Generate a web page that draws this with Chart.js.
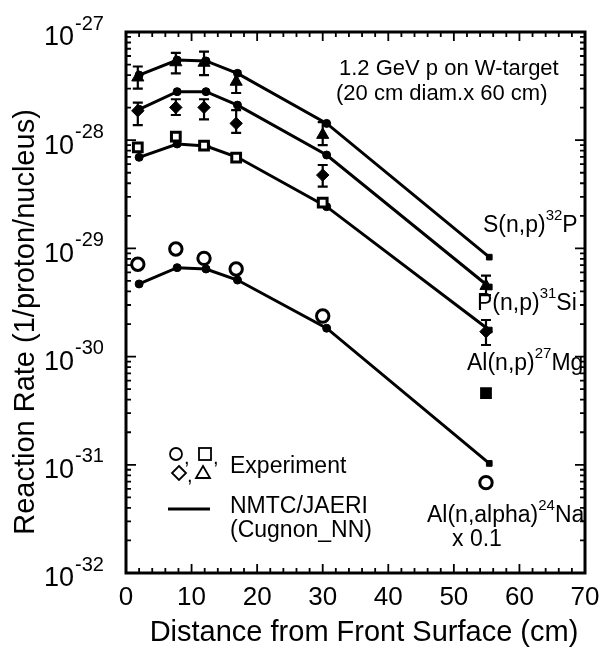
<!DOCTYPE html>
<html>
<head>
<meta charset="UTF-8">
<title>Reaction Rate</title>
<script src="https://cdn.jsdelivr.net/npm/chart.js"></script>
<style>
  html, body { margin: 0; padding: 0; background: #fff; }
  #wrap { width: 603px; height: 658px; }
</style>
</head>
<body>
<div id="wrap"><canvas id="grafico" width="603" height="658"></canvas></div>
<script>
// positions along the target (cm)
const calcX = [2, 7.8, 12.2, 17, 30.6, 55.4];
const expX = [1.8, 7.6, 11.9, 16.8, 30.0, 54.9];

// NMTC/JAERI calculation
const calcS = [4.0e-28, 5.5e-28, 5.4e-28, 4.15e-28, 1.43e-28, 8.3e-30];
const calcP = [1.93e-28, 2.81e-28, 2.81e-28, 2.11e-28, 7.3e-29, 4.4e-30];
const calcAlp = [6.95e-29, 9.23e-29, 8.84e-29, 6.95e-29, 2.43e-29, 1.76e-30];
const calcAla = [4.69e-30, 6.64e-30, 6.45e-30, 5.1e-30, 1.83e-30, 1.03e-31];

// experiment
const expS = [3.8e-28, 5.25e-28, 5.2e-28, 3.47e-28, 1.12e-28, 4.5e-30];
const expSLo = [3.0e-28, 4.15e-28, 4.0e-28, 2.73e-28, 9.0e-29, 3.7e-30];
const expSHi = [4.8e-28, 6.4e-28, 6.6e-28, 4.35e-28, 1.47e-28, 5.6e-30];
const expP = [1.87e-28, 2.01e-28, 2.01e-28, 1.43e-28, 4.76e-29, 1.70e-30];
const expPLo = [1.38e-28, 1.71e-28, 1.56e-28, 1.17e-28, 3.72e-29, 1.28e-30];
const expPHi = [2.22e-28, 2.39e-28, 2.39e-28, 1.90e-28, 5.9e-29, 2.18e-30];
const expAlp = [8.59e-29, 1.08e-28, 8.9e-29, 6.9e-29, 2.65e-29, 4.6e-31];
const expAla = [7.13e-30, 9.87e-30, 8.09e-30, 6.45e-30, 2.37e-30, 6.84e-32];

const yDecades = [-32, -31, -30, -29, -28, -27];
const xTicks = [0, 10, 20, 30, 40, 50, 60, 70];

const FONT = '"Liberation Sans", Arial, Helvetica, sans-serif';

function pts(xs, ys) {
  return xs.map((x, i) => ({ x: x, y: ys[i] }));
}

function calcSet(ys) {
  return {
    type: 'line',
    data: pts(calcX, ys),
    borderColor: '#000',
    borderWidth: 3,
    pointRadius: 4,
    pointStyle: ['circle', 'circle', 'circle', 'circle', 'circle', 'rect'],
    pointBackgroundColor: '#000',
    pointBorderColor: '#000',
    pointBorderWidth: 1,
    showLine: true,
    tension: 0,
    order: 2
  };
}

function expSet(ys, style, filled, lo, hi) {
  return {
    type: 'scatter',
    data: pts(expX, ys),
    pointStyle: style,
    pointRadius: style === 'triangle' ? 7 : 6.2,
    pointBackgroundColor: filled ? '#000' : '#fff',
    pointBorderColor: '#000',
    pointBorderWidth: filled ? 1 : 3,
    showLine: false,
    errLo: lo,
    errHi: hi,
    order: 1
  };
}

const sqExp = expSet(expAlp, 'rect', false);
sqExp.pointBackgroundColor = ['#fff', '#fff', '#fff', '#fff', '#fff', '#000'];

// error bars drawn through the scales
const errorBars = {
  id: 'errorBars',
  beforeDatasetsDraw(chart) {
    const { ctx, scales: { x, y } } = chart;
    ctx.save();
    ctx.strokeStyle = '#000';
    ctx.lineWidth = 2.2;
    chart.data.datasets.forEach(ds => {
      if (!ds.errLo) return;
      ds.data.forEach((p, i) => {
        const px = x.getPixelForValue(p.x);
        const y1 = y.getPixelForValue(ds.errLo[i]);
        const y2 = y.getPixelForValue(ds.errHi[i]);
        ctx.beginPath();
        ctx.moveTo(px, y1); ctx.lineTo(px, y2);
        ctx.moveTo(px - 5, y1); ctx.lineTo(px + 5, y1);
        ctx.moveTo(px - 5, y2); ctx.lineTo(px + 5, y2);
        ctx.stroke();
      });
    });
    ctx.restore();
  }
};

// frame, inward ticks, labels and notes
const frame = {
  id: 'frame',
  afterDraw(chart) {
    const { ctx, chartArea: a, scales: { x, y } } = chart;
    ctx.save();
    ctx.strokeStyle = '#000';
    ctx.fillStyle = '#000';
    ctx.lineWidth = 3;
    ctx.strokeRect(a.left, a.top, a.right - a.left, a.bottom - a.top);

    ctx.lineWidth = 1.8;
    ctx.beginPath();
    for (let v = 0; v <= 70; v += 2) {
      const px = x.getPixelForValue(v);
      const len = v % 10 === 0 ? 9 : 5;
      ctx.moveTo(px, a.bottom); ctx.lineTo(px, a.bottom - len);
      ctx.moveTo(px, a.top); ctx.lineTo(px, a.top + len);
    }
    for (let d = -32; d < -27; d++) {
      for (let m = 1; m <= 9; m++) {
        const py = y.getPixelForValue(m * Math.pow(10, d));
        const len = m === 1 ? 10 : 5;
        ctx.moveTo(a.left, py); ctx.lineTo(a.left + len, py);
        ctx.moveTo(a.right, py); ctx.lineTo(a.right - len, py);
      }
    }
    ctx.stroke();

    // x tick labels
    ctx.font = '26px ' + FONT;
    ctx.textAlign = 'center';
    ctx.textBaseline = 'middle';
    xTicks.forEach(v => {
      ctx.fillText(String(v), x.getPixelForValue(v), 598);
    });

    // y tick labels 10^n
    yDecades.forEach(d => {
      const py = y.getPixelForValue(Math.pow(10, d));
      ctx.font = '27px ' + FONT;
      ctx.textAlign = 'right';
      ctx.fillText('10', 74, py + 6);
      ctx.font = '20px ' + FONT;
      ctx.textAlign = 'left';
      ctx.fillText(String(d), 75, py - 8);
    });

    // notes
    ctx.textAlign = 'left';
    ctx.font = '22px ' + FONT;
    ctx.fillText('1.2 GeV p on W-target', 339, 69);
    ctx.fillText('(20 cm diam.x 60 cm)', 336, 94);

    function label(parts, px, py) {
      let cx = px;
      parts.forEach(([t, sup]) => {
        ctx.font = (sup ? '15px ' : '23px ') + FONT;
        ctx.fillText(t, cx, sup ? py - 10 : py);
        cx += ctx.measureText(t).width;
      });
    }
    label([['S(n,p)', 0], ['32', 1], ['P', 0]], 483, 226);
    label([['P(n,p)', 0], ['31', 1], ['Si', 0]], 477, 304);
    label([['Al(n,p)', 0], ['27', 1], ['Mg', 0]], 467, 364);
    label([['Al(n,alpha)', 0], ['24', 1], ['Na', 0]], 427, 516);
    ctx.font = '23px ' + FONT;
    ctx.fillText('x 0.1', 452, 540);

    // legend
    ctx.lineWidth = 1.8;
    ctx.beginPath(); ctx.arc(176, 454, 6, 0, Math.PI * 2); ctx.stroke();
    ctx.strokeRect(199, 448, 12, 12);
    ctx.beginPath();
    ctx.moveTo(179, 466); ctx.lineTo(186, 473); ctx.lineTo(179, 480); ctx.lineTo(172, 473); ctx.closePath();
    ctx.moveTo(203, 466); ctx.lineTo(210, 478); ctx.lineTo(196, 478); ctx.closePath();
    ctx.stroke();
    ctx.font = '20px ' + FONT;
    ctx.fillText(',', 184, 458);
    ctx.fillText(',', 213, 458);
    ctx.fillText(',', 187, 476);
    ctx.font = '23px ' + FONT;
    ctx.fillText('Experiment', 230, 467);
    ctx.lineWidth = 3;
    ctx.beginPath(); ctx.moveTo(168, 509); ctx.lineTo(210, 509); ctx.stroke();
    ctx.fillText('NMTC/JAERI', 230, 507);
    ctx.fillText('(Cugnon_NN)', 230, 531);

    // axis titles
    ctx.font = '29px ' + FONT;
    ctx.textAlign = 'center';
    ctx.fillText('Distance from Front Surface (cm)', 364, 633);
    ctx.translate(26, 322);
    ctx.rotate(-Math.PI / 2);
    ctx.font = '29px ' + FONT;
    ctx.fillText('Reaction Rate (1/proton/nucleus)', 0, 0);
    ctx.restore();
  }
};

const config = {
  data: {
    datasets: [
      calcSet(calcS), calcSet(calcP), calcSet(calcAlp), calcSet(calcAla),
      expSet(expS, 'triangle', true, expSLo, expSHi),
      expSet(expP, 'rectRot', true, expPLo, expPHi),
      sqExp,
      expSet(expAla, 'circle', false)
    ]
  },
  options: {
    responsive: false,
    animation: false,
    layout: { padding: { left: 0, right: 18, top: 32, bottom: 0 } },
    plugins: { legend: { display: false }, tooltip: { enabled: false } },
    scales: {
      x: {
        type: 'linear', min: 0, max: 70,
        grid: { display: false }, border: { display: false },
        ticks: { display: false },
        afterFit: s => { s.height = 85; s.paddingLeft = 0; s.paddingRight = 0; }
      },
      y: {
        type: 'logarithmic', min: 1e-32, max: 1e-27,
        grid: { display: false }, border: { display: false },
        ticks: { display: false },
        afterFit: s => { s.width = 126; s.paddingTop = 0; s.paddingBottom = 0; }
      }
    }
  },
  plugins: [errorBars, frame]
};

new Chart(document.getElementById('grafico').getContext('2d'), config);
</script>
</body>
</html>
